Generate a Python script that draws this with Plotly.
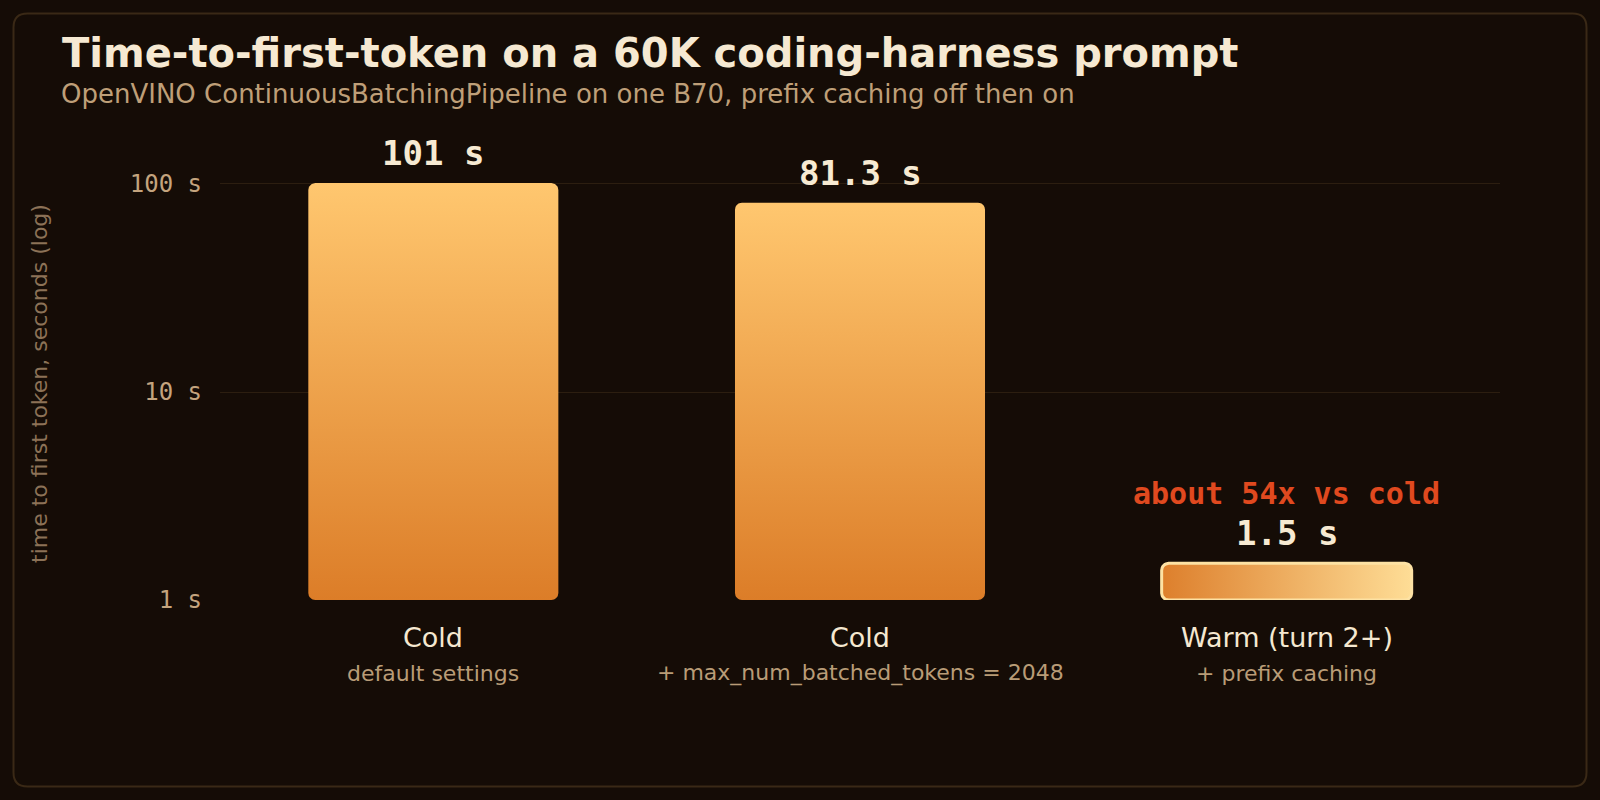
import math
import plotly.graph_objects as go

# ---- data ----
categories = ["Cold", "Cold", "Warm (turn 2+)"]
category_notes = ["default settings", "+ max_num_batched_tokens = 2048", "+ prefix caching"]
ttft_seconds = [101, 81.3, 1.5]
value_labels = ["101 s", "81.3 s", "1.5 s"]
callout_text = "about 54x vs cold"
y_tick_vals = [1, 10, 100]
y_tick_text = ["1 s", "10 s", "100 s"]

title_text = "Time-to-first-token on a 60K coding-harness prompt"
subtitle_text = "OpenVINO ContinuousBatchingPipeline on one B70, prefix caching off then on"
y_axis_title = "time to first token, seconds (log)"

# ---- layout geometry ----
W, H = 1600, 800
ML, MR, MT, MB = 220, 100, 140, 200
PW, PH = W - ML - MR, H - MT - MB
Y_TOP_LOG = 2.2115
BAR_WIDTH = 0.586

BG = "#150c06"
MONO = "DejaVu Sans Mono"
SANS = "DejaVu Sans"


def px2x(px):
    return (px - ML) / PW


def py2y(py):
    return (H - MB - py) / PH


def rounded_bar(xc, value, r_px=7, n=8):
    """Polygon (data coords) for a bar with rounded corners on a log y axis."""
    rx = r_px / (PW / 3.0)
    ry = r_px / (PH / Y_TOP_LOG)
    x0, x1 = xc - BAR_WIDTH / 2, xc + BAR_WIDTH / 2
    y0, y1 = 0.0, math.log10(value)
    corners = [
        (x1 - rx, y0 + ry, -90, 0),
        (x1 - rx, y1 - ry, 0, 90),
        (x0 + rx, y1 - ry, 90, 180),
        (x0 + rx, y0 + ry, 180, 270),
    ]
    xs, ys = [], []
    for cx, cy, a0, a1 in corners:
        for k in range(n + 1):
            a = math.radians(a0 + (a1 - a0) * k / n)
            xs.append(cx + rx * math.cos(a))
            ys.append(10 ** (cy + ry * math.sin(a)))
    xs.append(xs[0])
    ys.append(ys[0])
    return xs, ys


fig = go.Figure()

for i, v in enumerate(ttft_seconds):
    xs, ys = rounded_bar(i, v)
    warm = i == 2
    if warm:
        grad = dict(type="horizontal", colorscale=[[0, "#dd7f2c"], [1, "#fedd96"]])
        line = dict(color="#fde2a4", width=3)
    else:
        grad = dict(type="vertical", colorscale=[[0, "#dc7d28"], [1, "#ffc76f"]])
        line = dict(color="rgba(0,0,0,0)", width=0)
    fig.add_trace(go.Scatter(
        x=xs, y=ys, mode="lines", fill="toself", fillgradient=grad,
        line=line, hoverinfo="skip", showlegend=False,
    ))

annotations = []
for i, (v, lab) in enumerate(zip(ttft_seconds, value_labels)):
    annotations.append(dict(
        x=i, y=math.log10(v), xref="x", yref="y", text=f"<b>{lab}</b>",
        showarrow=False, yshift=30, yanchor="middle",
        font=dict(family=MONO, size=34, color="#f7ead2"),
    ))
annotations.append(dict(
    x=2, y=math.log10(ttft_seconds[2]), xref="x", yref="y", text=f"<b>{callout_text}</b>",
    showarrow=False, yshift=70, yanchor="middle",
    font=dict(family=MONO, size=30, color="#e0491f"),
))
for i, (c, note) in enumerate(zip(categories, category_notes)):
    annotations.append(dict(
        x=i, y=py2y(637), xref="x", yref="paper", text=c, showarrow=False,
        yanchor="middle", font=dict(family=SANS, size=27, color="#f5e8d0"),
    ))
    annotations.append(dict(
        x=i, y=py2y(673), xref="x", yref="paper", text=note, showarrow=False,
        yanchor="middle", font=dict(family=SANS, size=22, color="#b99c77"),
    ))
annotations.append(dict(
    x=px2x(60), y=py2y(53), xref="paper", yref="paper", text=f"<b>{title_text}</b>",
    showarrow=False, xanchor="left", yanchor="middle",
    font=dict(family=SANS, size=40, color="#f6e9d2"),
))
annotations.append(dict(
    x=px2x(59), y=py2y(94), xref="paper", yref="paper", text=subtitle_text,
    showarrow=False, xanchor="left", yanchor="middle",
    font=dict(family=SANS, size=26, color="#bf9f78"),
))
annotations.append(dict(
    x=px2x(39), y=py2y(384), xref="paper", yref="paper", text=y_axis_title,
    showarrow=False, textangle=-90, xanchor="center", yanchor="middle",
    font=dict(family=SANS, size=22, color="#8c7257"),
))

# rounded frame
fx0, fx1, fy0, fy1, fr = 13.5, 1586.5, 13.5, 786.5, 14


def P(px, py):
    return f"{px2x(px):.6f},{py2y(py):.6f}"


frame_path = (
    f"M {P(fx0 + fr, fy0)} L {P(fx1 - fr, fy0)} Q {P(fx1, fy0)} {P(fx1, fy0 + fr)} "
    f"L {P(fx1, fy1 - fr)} Q {P(fx1, fy1)} {P(fx1 - fr, fy1)} "
    f"L {P(fx0 + fr, fy1)} Q {P(fx0, fy1)} {P(fx0, fy1 - fr)} "
    f"L {P(fx0, fy0 + fr)} Q {P(fx0, fy0)} {P(fx0 + fr, fy0)} Z"
)

fig.update_layout(
    width=W, height=H,
    margin=dict(l=ML, r=MR, t=MT, b=MB, autoexpand=False),
    paper_bgcolor=BG, plot_bgcolor=BG,
    showlegend=False,
    xaxis=dict(range=[-0.5, 2.5], showticklabels=False, showgrid=False,
               zeroline=False, showline=False, ticks=""),
    yaxis=dict(type="log", range=[0, Y_TOP_LOG], tickvals=y_tick_vals, ticktext=y_tick_text,
               tickfont=dict(family=MONO, size=24, color="#c4a47e"),
               showgrid=True, gridcolor="#2c1e10", gridwidth=1,
               zeroline=False, showline=False, ticks="", ticklabelstandoff=17),
    annotations=annotations,
    shapes=[dict(type="path", path=frame_path, xref="paper", yref="paper",
                 line=dict(color="#3a2916", width=2), layer="below")],
)

fig.write_html("out.html")
